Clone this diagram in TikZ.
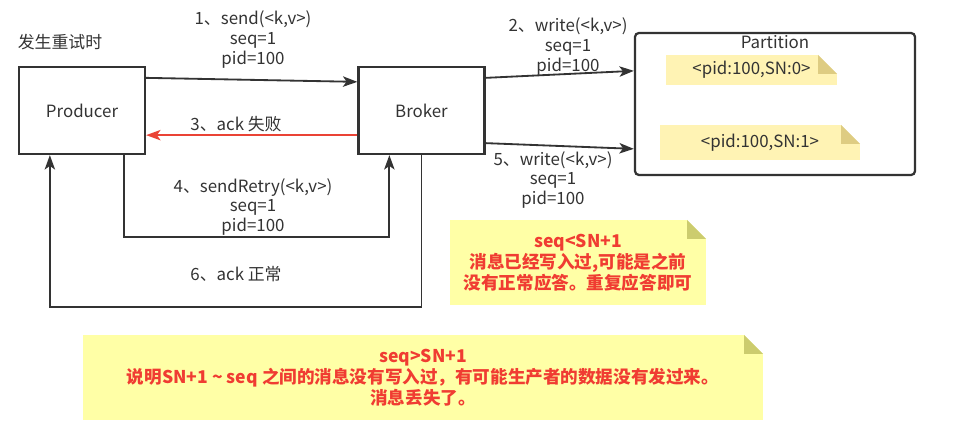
\documentclass[tikz,border=0pt]{standalone}
\usepackage{fontspec}
\setmainfont{Noto Sans CJK SC}
\usetikzlibrary{arrows.meta, positioning, calc}
\definecolor{LineGray}{RGB}{51, 51, 51}
\definecolor{AckRed}{RGB}{234, 67, 53}
\definecolor{NoteRed}{RGB}{240, 60, 50}
\definecolor{PaleYellow}{RGB}{255, 255, 166}
\definecolor{PaleFold}{RGB}{204, 204, 110}
\definecolor{SnYellow}{RGB}{255, 243, 180}
\definecolor{SnFold}{RGB}{222, 204, 130}

\begin{document}
\begin{tikzpicture}[x=0.025cm, y=-0.025cm,
    every node/.style={font=\fontsize{12}{14.2}\selectfont, align=center, text=LineGray},
    box/.style={draw=LineGray, line width=1.6pt, minimum width=3.15cm, minimum height=2.175cm},
    partbox/.style={draw=LineGray, line width=1.6pt, rounded corners=0.1cm, minimum width=7cm, minimum height=3.55cm},
    flow/.style={draw=LineGray, line width=1.3pt, -{Stealth[length=3.6mm, width=2.6mm, inset=0.9mm]}},
    note/.style 2 args={fill=#1, inner sep=0pt, path picture={
        \fill[white] (path picture bounding box.north east) -- ++(-0.475cm,0) -- ++(0.475cm,-0.475cm) -- cycle;
        \fill[#2] ([xshift=-0.475cm]path picture bounding box.north east) -- ++(0,-0.475cm) -- ++(0.475cm,0) -- cycle;}},
    warn/.style={text=NoteRed, font=\fontsize{12.5}{14.8}\selectfont\bfseries}
]
\useasboundingbox (0,0) rectangle (978,445);

\node (retry) at (60,42) {发生重试时};
\node[box] (prod) at (82,110.5) {Producer};
\node[box] (brok) at (421.5,110.5) {Broker};
\node[partbox] (part) at (775,104) {};
\node[below=0.05cm of part.north, inner sep=1pt] (ptitle) {Partition};
\node[note={SnYellow}{SnFold}, minimum width=4.275cm, minimum height=0.75cm] (sn0) at (751.5,70) {<pid:100,SN:0>};
\node[note={SnYellow}{SnFold}, minimum width=5cm, minimum height=0.875cm] (sn1) at (760,142.5) {<pid:100,SN:1>};

% send / write
\draw[flow] ($(prod.north east)+(0,12)$) -- ($(brok.north west)+(0,16)$);
\node (l1) at (253,40) {1、send(<k,v>)\\seq=1\\pid=100};
\draw[flow] ($(brok.north east)+(0,12)$) -- ($(part.north west)+(0,39)$);
\node (l2) at (568,47) {2、write(<k,v>)\\seq=1\\pid=100};
\draw[flow] ($(brok.south east)+(0,-12)$) -- ($(part.north west)+(0,117)$);
\node (l5) at (553,180) {5、write(<k,v>)\\seq=1\\pid=100};

% acks and retry
\draw[flow, draw=AckRed] ($(brok.south west)+(0,-20)$) -- ($(prod.south east)+(0,-20)$);
\node (l3) at (236,124) {3、ack 失败};
\draw[flow] ($(prod.south east)+(-22,0)$) -- ++(0,82) -| ($(brok.south west)+(32,0)$);
\node (l4) at (253,207) {4、sendRetry(<k,v>)\\seq=1\\pid=100};
\draw[flow] (brok.south) -- ++(0,152) -| ($(prod.south west)+(32,0)$);
\node (l6) at (236,274) {6、ack 正常};

\node[note={PaleYellow}{PaleFold}, warn, minimum width=6.4cm, minimum height=2.125cm] (lower) at (578,262.5) {seq<SN+1\\消息已经写入过,可能是之前\\没有正常应答。重复应答即可};
\node[note={PaleYellow}{PaleFold}, warn, minimum width=17cm, minimum height=2.125cm] (higher) at (423,377.5) {seq>SN+1\\说明SN+1 \textasciitilde{} seq 之间的消息没有写入过，有可能生产者的数据没有发过来。\\消息丢失了。};
\end{tikzpicture}
\end{document}
